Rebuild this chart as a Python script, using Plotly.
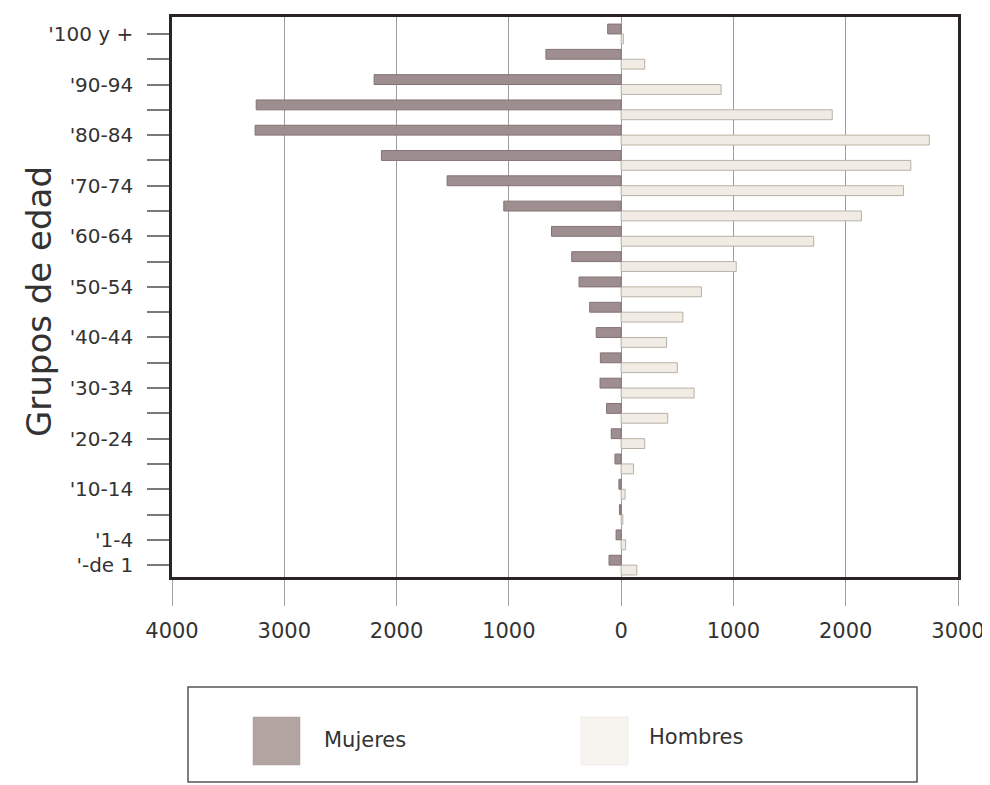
import plotly.graph_objects as go
import numpy as np

categories = ['-de 1', '1-4', '5-9', '10-14', '15-19', '20-24', '25-29', '30-34',
              '35-39', '40-44', '45-49', '50-54', '55-59', '60-64', '65-69', '70-74',
              '75-79', '80-84', '85-89', '90-94', '95-99', '100 y +']
tick_text = ["'-de 1", "'1-4", "", "'10-14", "", "'20-24", "", "'30-34",
             "", "'40-44", "", "'50-54", "", "'60-64", "", "'70-74",
             "", "'80-84", "", "'90-94", "", "'100 y +"]
mujeres = [108, 45, 15, 20, 55, 88, 130, 188, 185, 222, 280, 375, 440, 620, 1045, 1550,
           2135, 3260, 3250, 2200, 670, 120]
hombres = [140, 40, 15, 35, 110, 210, 415, 650, 500, 405, 550, 715, 1025, 1715, 2140, 2515,
           2580, 2745, 1880, 890, 210, 20]
x_ticks = [-4000, -3000, -2000, -1000, 0, 1000, 2000, 3000]
x_tick_text = ['4000', '3000', '2000', '1000', '0', '1000', '2000', '3000']

FONT = 'DejaVu Sans'
TXT = '#333333'

fig = go.Figure()
fig.add_trace(go.Bar(
    y=categories, x=hombres, orientation='h', name='Hombres',
    marker=dict(color='#f1ece3', line=dict(color='#b9b1a8', width=1)),
))
fig.add_trace(go.Bar(
    y=categories, x=-np.array(mujeres), orientation='h', name='Mujeres',
    marker=dict(color='#9f8e8f', line=dict(color='#837274', width=1)),
))

# page body has an 8px default margin
OFF = 8
WIN_W, WIN_H = 990, 785
L, R, T, B = 172, 958, 17, 577   # plot frame in window pixels
W, H = WIN_W - OFF, WIN_H - OFF
ml, mr, mt, mb = L - OFF, WIN_W - R, T - OFF, WIN_H - B
pw, ph = R - L, B - T

def px(x):
    return (x - L) / pw

def py(y):
    return (B - y) / ph

fig.update_layout(
    width=W, height=H,
    margin=dict(l=ml, r=mr, t=mt, b=mb, autoexpand=False),
    paper_bgcolor='white', plot_bgcolor='white',
    barmode='group', bargap=0.22, bargroupgap=0,
    showlegend=False,
    font=dict(family=FONT, color=TXT),
)
fig.update_xaxes(
    range=[-4000, 3000], tickvals=x_ticks, ticktext=x_tick_text,
    showgrid=True, gridcolor='#9c9c9c', gridwidth=1, zeroline=False,
    showline=True, mirror=True, linecolor='#2b2326', linewidth=2.5,
    ticks='outside', ticklen=26, tickcolor='#a0a0a0', tickwidth=1,
    tickfont=dict(family=FONT, size=21, color=TXT), ticklabelstandoff=7,
)
fig.update_yaxes(
    type='category', categoryorder='array', categoryarray=categories,
    range=[-0.47, 21.67], tickvals=categories, ticktext=tick_text,
    showgrid=False, zeroline=False,
    showline=True, mirror=True, linecolor='#2b2326', linewidth=2.5,
    ticks='outside', ticklen=22, tickcolor='#7a7a7a', tickwidth=1.5,
    tickfont=dict(family=FONT, size=20, color=TXT), ticklabelstandoff=10,
)

# axis title
fig.add_annotation(
    text='Grupos de edad', xref='paper', yref='paper', x=px(39), y=py(302),
    xanchor='center', yanchor='middle', textangle=-90, showarrow=False,
    font=dict(family=FONT, size=34, color=TXT),
)

# legend box (drawn)
fig.add_shape(type='rect', xref='paper', yref='paper',
              x0=px(188), x1=px(917), y0=py(687), y1=py(782),
              line=dict(color='#555555', width=1.5), fillcolor='rgba(0,0,0,0)')
fig.add_shape(type='rect', xref='paper', yref='paper',
              x0=px(253), x1=px(300), y0=py(717), y1=py(765),
              line=dict(color='#a89a97', width=0.5), fillcolor='#b2a4a1')
fig.add_shape(type='rect', xref='paper', yref='paper',
              x0=px(581), x1=px(628), y0=py(717), y1=py(765),
              line=dict(color='#e6e1da', width=0.5), fillcolor='#f7f4ef')
fig.add_annotation(text='Mujeres', xref='paper', yref='paper', x=px(322), y=py(740),
                   xanchor='left', yanchor='middle', showarrow=False,
                   font=dict(family=FONT, size=21, color=TXT))
fig.add_annotation(text='Hombres', xref='paper', yref='paper', x=px(647), y=py(737),
                   xanchor='left', yanchor='middle', showarrow=False,
                   font=dict(family=FONT, size=21, color=TXT))

fig.write_html('out.html')
